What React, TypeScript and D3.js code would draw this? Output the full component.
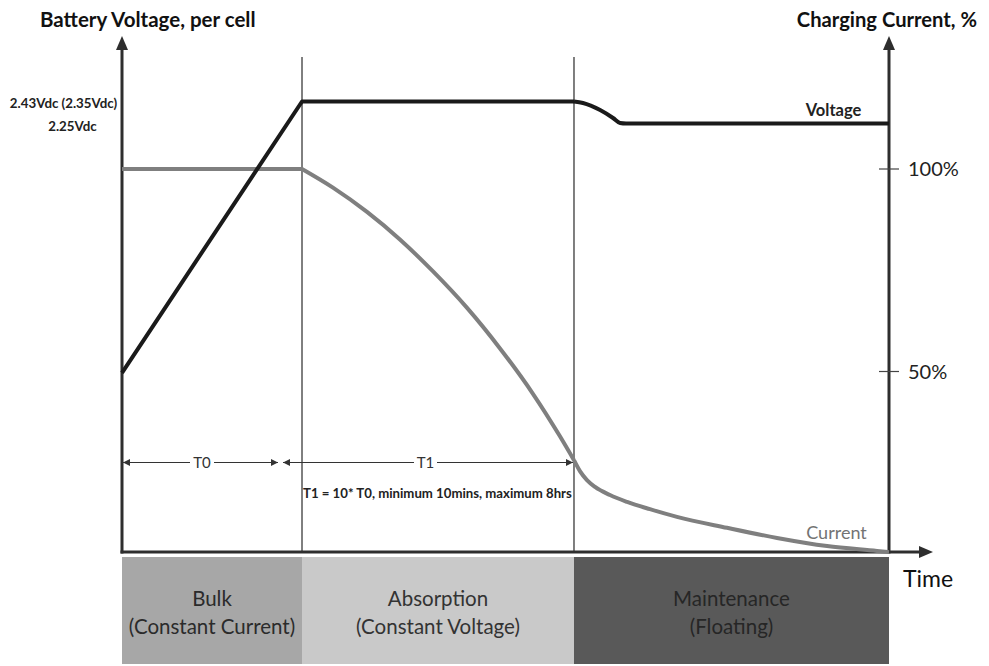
import React from "react";
import * as d3 from "d3";

// Time in units of T0 (bulk duration)
const phaseNames = ["Bulk", "Absorption", "Maintenance"];
const phaseSubNames = ["(Constant Current)", "(Constant Voltage)", "(Floating)"];
const phaseBounds = [0, 1, 2.511, 4.261];
const phaseColors = ["#a7a7a7", "#c9c9c9", "#595959"];
const phaseTextColors = ["#2b2b2b", "#333333", "#262626"];

// Voltage per cell (Vdc)
const voltageRampT = [0, 1, 2.511];
const voltageRampV = [0.21, 2.43, 2.43];
const voltageFloatT = [2.511, 2.561, 2.656, 2.728, 2.767, 2.8, 4.261];
const voltageFloatV = [2.43, 2.418, 2.36, 2.295, 2.254, 2.25, 2.25];
const voltageTickLabels = ["2.43Vdc (2.35Vdc)", "2.25Vdc"];

// Charging current (%)
const currentBulkT = [0, 1];
const currentBulkI = [100, 100];
const currentAbsT = [1.0, 1.172, 1.361, 1.544, 1.728, 1.917, 2.1, 2.283, 2.433, 2.511];
const currentAbsI = [100, 95.4, 89.4, 82.6, 74.7, 65.7, 55.7, 44.5, 34.0, 28.1];
const currentDecayT = [2.511, 2.544, 2.583, 2.628, 2.711, 2.806, 2.933, 3.083, 3.361, 3.639, 3.917, 4.194, 4.261];
const currentDecayI = [28.1, 25.4, 23.2, 21.5, 19.5, 17.8, 16.0, 14.1, 11.4, 8.9, 6.9, 5.7, 5.4];
const currentTickVals = [100, 50];
const currentTickLabels = ["100%", "50%"];

const FONT = "Lato, 'Open Sans', sans-serif";

export default function App() {
  const x = d3.scaleLinear().domain([0, 4.261]).range([122, 889]);
  const yV = d3.scaleLinear().domain([2.25, 2.43]).range([123.5, 101.5]);
  const yI = d3.scaleLinear().domain([0, 100]).range([574, 169]);

  const axisY = 552;
  const topY = 36;
  const leftX = x(0);
  const rightX = x(4.261);
  const arrowX = 933;

  const zip = (a: number[], b: number[]) => a.map((t, i) => [t, b[i]] as [number, number]);

  const lineV = d3.line<[number, number]>().x((d) => x(d[0])).y((d) => yV(d[1]));
  const lineVs = d3
    .line<[number, number]>()
    .x((d) => x(d[0]))
    .y((d) => yV(d[1]))
    .curve(d3.curveMonotoneX);
  const lineI = d3
    .line<[number, number]>()
    .x((d) => x(d[0]))
    .y((d) => yI(d[1]))
    .curve(d3.curveMonotoneX);

  const arrowUp = (cx: number, tipY: number) =>
    `M${cx},${tipY} L${cx - 6},${tipY + 14} L${cx + 6},${tipY + 14} Z`;
  const arrowRight = (tipX: number, cy: number) =>
    `M${tipX},${cy} L${tipX - 14},${cy - 6} L${tipX - 14},${cy + 6} Z`;
  const smallR = (tipX: number, cy: number) =>
    `M${tipX},${cy} L${tipX - 7},${cy - 3.5} L${tipX - 7},${cy + 3.5} Z`;
  const smallL = (tipX: number, cy: number) =>
    `M${tipX},${cy} L${tipX + 7},${cy - 3.5} L${tipX + 7},${cy + 3.5} Z`;

  const dimY = 462.5;
  const t0a = x(0);
  const t0b = 278;
  const t1a = 283;
  const t1b = x(2.511) - 1;

  return (
    <svg
      width={989}
      height={666}
      style={{ position: "absolute", left: 0, top: 0, background: "#fff" }}
      fontFamily={FONT}
    >
      {/* Phase boxes */}
      {phaseNames.map((n, i) => {
        const x0 = x(phaseBounds[i]);
        const x1 = x(phaseBounds[i + 1]);
        const cx = (x0 + x1) / 2;
        return (
          <g key={n}>
            <rect x={x0} y={557} width={x1 - x0} height={107} fill={phaseColors[i]} />
            <text x={cx} y={606} textAnchor="middle" fontSize={20.5} fill={phaseTextColors[i]}>
              {n}
            </text>
            <text x={cx} y={634} textAnchor="middle" fontSize={20.5} fill={phaseTextColors[i]}>
              {phaseSubNames[i]}
            </text>
          </g>
        );
      })}

      {/* Phase boundary lines */}
      {[phaseBounds[1], phaseBounds[2]].map((t) => (
        <line key={t} x1={x(t)} x2={x(t)} y1={57} y2={axisY} stroke="#555" strokeWidth={1.5} />
      ))}

      {/* Axes */}
      <line x1={leftX} x2={leftX} y1={axisY + 1.5} y2={topY + 10} stroke="#2e2e2e" strokeWidth={3} />
      <path d={arrowUp(leftX, topY)} fill="#2e2e2e" />
      <line x1={rightX} x2={rightX} y1={axisY + 1.5} y2={topY + 10} stroke="#2e2e2e" strokeWidth={3} />
      <path d={arrowUp(rightX, topY)} fill="#2e2e2e" />
      <line x1={leftX - 1.5} x2={arrowX - 10} y1={axisY} y2={axisY} stroke="#2e2e2e" strokeWidth={3} />
      <path d={arrowRight(arrowX, axisY)} fill="#2e2e2e" />

      {/* Right axis ticks */}
      {currentTickVals.map((v, i) => (
        <g key={v}>
          <line x1={rightX - 10} x2={rightX + 10} y1={yI(v)} y2={yI(v)} stroke="#444" strokeWidth={1.2} />
          <text x={rightX + 19} y={yI(v) + 7} fontSize={20} fill="#222">
            {currentTickLabels[i]}
          </text>
        </g>
      ))}

      {/* Left axis labels */}
      <text x={63.5} y={108} textAnchor="middle" fontSize={13.3} fontWeight={700} fill="#222">
        {voltageTickLabels[0]}
      </text>
      <text x={72.5} y={131} textAnchor="middle" fontSize={13.3} fontWeight={700} fill="#222">
        {voltageTickLabels[1]}
      </text>

      {/* Axis titles */}
      <text x={40} y={27} fontSize={20.5} fontWeight={700} fill="#111">
        Battery Voltage, per cell
      </text>
      <text x={977} y={27} textAnchor="end" fontSize={20.2} fontWeight={700} fill="#111">
        Charging Current, %
      </text>
      <text x={903} y={587} fontSize={23} fill="#111">
        Time
      </text>

      {/* Current curve */}
      <g fill="none" stroke="#7f7f7f" strokeWidth={4} strokeLinejoin="round">
        <path d={lineI(zip(currentBulkT, currentBulkI)) || ""} />
        <path d={lineI(zip(currentAbsT, currentAbsI)) || ""} />
        <path d={lineI(zip(currentDecayT, currentDecayI)) || ""} />
      </g>

      {/* Voltage curve */}
      <g fill="none" stroke="#1a1a1a" strokeWidth={4} strokeLinejoin="round">
        <path d={lineV(zip(voltageRampT, voltageRampV)) || ""} />
        <path d={lineVs(zip(voltageFloatT, voltageFloatV)) || ""} />
      </g>

      {/* Series labels */}
      <text x={833.5} y={116} textAnchor="middle" fontSize={16.5} fontWeight={700} fill="#222">
        Voltage
      </text>
      <text x={836.5} y={539} textAnchor="middle" fontSize={18} fill="#737373">
        Current
      </text>

      {/* T0 / T1 dimension arrows */}
      <g stroke="#333" strokeWidth={1.2}>
        <line x1={t0a} x2={190} y1={dimY} y2={dimY} />
        <line x1={214} x2={t0b} y1={dimY} y2={dimY} />
        <line x1={t1a} x2={414} y1={dimY} y2={dimY} />
        <line x1={437} x2={t1b} y1={dimY} y2={dimY} />
      </g>
      <g fill="#333">
        <path d={smallL(t0a + 1, dimY)} />
        <path d={smallR(t0b, dimY)} />
        <path d={smallL(t1a, dimY)} />
        <path d={smallR(t1b, dimY)} />
      </g>
      <text x={202} y={468} textAnchor="middle" fontSize={15} fill="#333">
        T0
      </text>
      <text x={425.5} y={468} textAnchor="middle" fontSize={15} fill="#333">
        T1
      </text>
      <text x={303} y={498} fontSize={13.2} fontWeight={700} fill="#222">
        T1 = 10* T0, minimum 10mins, maximum 8hrs
      </text>
    </svg>
  );
}
